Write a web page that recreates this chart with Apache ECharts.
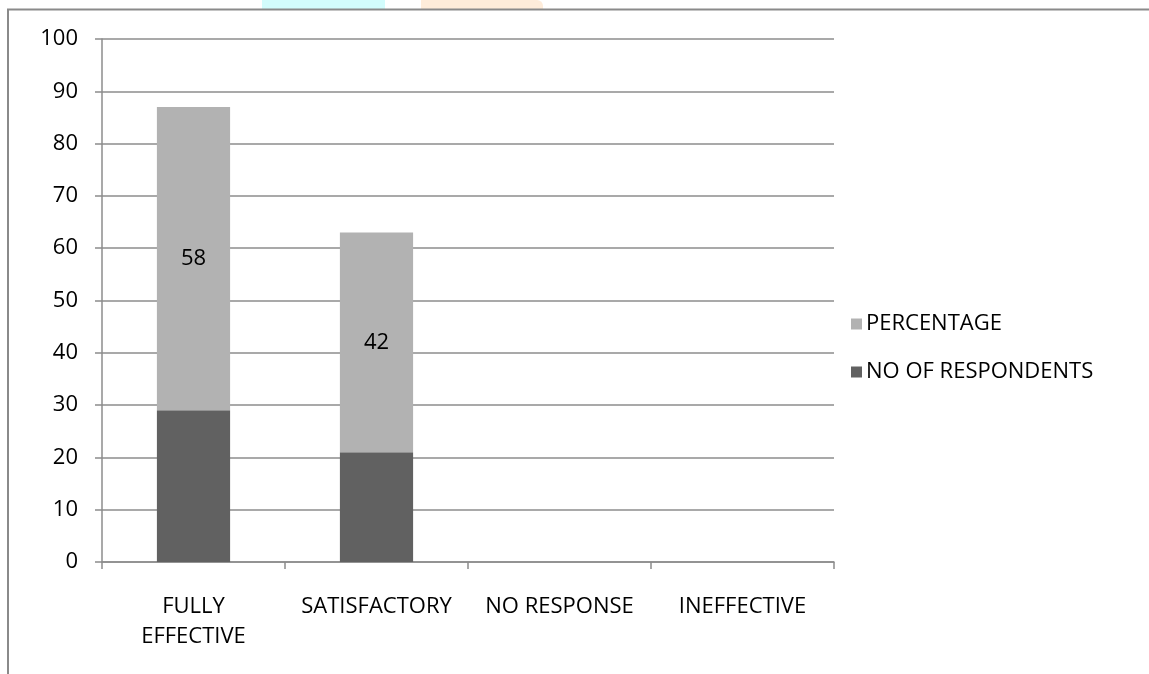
<!DOCTYPE html>
<html>
<head>
<meta charset="utf-8">
<title>Effectiveness responses</title>
<script src="https://cdn.jsdelivr.net/npm/echarts@6/dist/echarts.min.js"></script>
<style>
  html, body { margin: 0; padding: 0; background: #ffffff; }
  #chart { width: 1149px; height: 674px; }
</style>
</head>
<body>
<div id="chart"></div>
<script>
// Response categories along the x axis
const categories = ['FULLY\nEFFECTIVE', 'SATISFACTORY', 'NO RESPONSE', 'INEFFECTIVE'];
// Number of respondents per category (lower stack)
const respondents = [29, 21, 0, 0];
// Percentage per category (upper stack)
const percentage = [58, 42, 0, 0];
// Value axis range
const yMin = 0;
const yMax = 100;
const yStep = 10;

const FONT = '"Open Sans", Lato, sans-serif';
const FS = 22;
const chart = echarts.init(document.getElementById('chart'), null, { renderer: 'canvas' });

chart.setOption({
  backgroundColor: '#ffffff',
  animation: false,
  textStyle: { fontFamily: FONT },
  graphic: [
    // faint coloured shapes along the top edge
    { type: 'rect', shape: { x: 262, y: 0, width: 123, height: 9 }, style: { fill: '#d2fcfc' }, z: 0 },
    { type: 'rect', shape: { x: 421, y: 0, width: 122, height: 9, r: [0, 6, 0, 0] }, style: { fill: '#feecda' }, z: 0 },
    // outer frame: top and left edges
    { type: 'polyline', shape: { points: [[8, 674], [8, 9.5], [1149, 9.5]] },
      style: { stroke: '#8a8a8a', lineWidth: 2, fill: null }, z: 1 }
  ],
  grid: { left: 102, right: 315, top: 39, bottom: 112, containLabel: false },
  legend: {
    orient: 'vertical',
    left: 846,
    top: 308,
    itemWidth: 11,
    itemHeight: 11,
    itemGap: 26,
    icon: 'rect',
    data: ['PERCENTAGE', 'NO OF RESPONDENTS'],
    textStyle: { fontFamily: FONT, fontSize: FS, color: '#000000', padding: [0, 0, 0, -1] }
  },
  xAxis: {
    type: 'category',
    data: categories,
    axisLine: { lineStyle: { color: '#8c8c8c', width: 1.5 } },
    axisTick: { show: true, length: 7, alignWithLabel: false, lineStyle: { color: '#8c8c8c', width: 1.5 } },
    axisLabel: {
      interval: 0,
      margin: 30,
      fontFamily: FONT,
      fontSize: FS,
      lineHeight: 30,
      color: '#000000'
    }
  },
  yAxis: {
    type: 'value',
    min: yMin,
    max: yMax,
    interval: yStep,
    axisLine: { show: true, lineStyle: { color: '#8c8c8c', width: 1.5 } },
    axisTick: { show: true, length: 7, lineStyle: { color: '#8c8c8c', width: 1.5 } },
    splitLine: { show: true, lineStyle: { color: '#8c8c8c', width: 1.5 } },
    axisLabel: { margin: 24, fontFamily: FONT, fontSize: FS, color: '#000000' }
  },
  series: [
    {
      name: 'NO OF RESPONDENTS',
      type: 'bar',
      stack: 'total',
      barWidth: '40%',
      data: respondents,
      itemStyle: { color: '#616161' },
      label: { show: false }
    },
    {
      name: 'PERCENTAGE',
      type: 'bar',
      stack: 'total',
      barWidth: '40%',
      data: percentage,
      itemStyle: { color: '#b2b2b2' },
      label: {
        show: true,
        position: 'inside',
        fontFamily: FONT,
        fontSize: FS,
        color: '#000000',
        formatter: p => (p.value ? String(p.value) : '')
      }
    }
  ]
});
</script>
</body>
</html>
